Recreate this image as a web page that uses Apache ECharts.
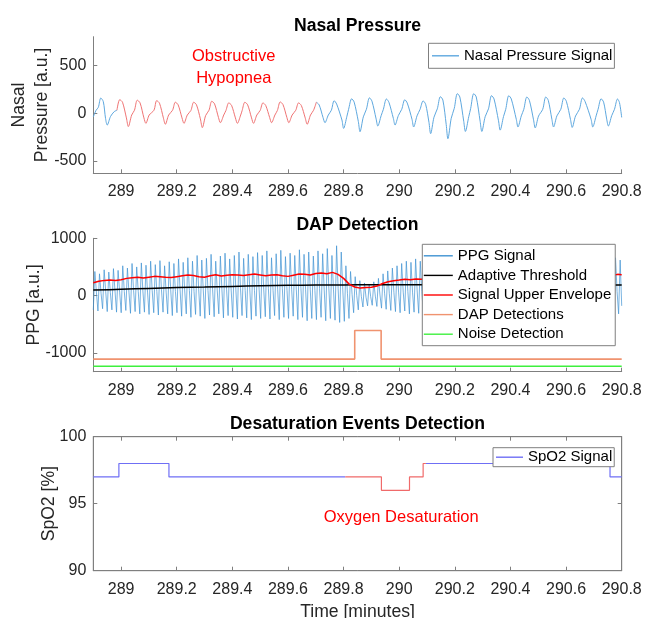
<!DOCTYPE html>
<html><head><meta charset="utf-8">
<script src="https://cdn.jsdelivr.net/npm/echarts@6/dist/echarts.min.js"></script>
<style>html,body{margin:0;padding:0;background:#fff}#chart{width:645px;height:618px}</style>
</head><body><div id="chart"></div>
<script>
// ---------- shared axis ----------
const xTickValues = [289, 289.2, 289.4, 289.6, 289.8, 290, 290.2, 290.4, 290.6, 290.8];
const timeMin = 288.9, timeMax = 290.8;

// ---------- Nasal pressure ----------
const nasalTime = [
288.900,288.910,288.918,288.927,288.936,288.944,288.950,288.962,288.975,288.985,
288.995,289.005,289.019,289.026,289.038,289.048,
289.058,289.068,289.082,289.089,289.101,289.118,
289.128,289.138,289.152,289.159,289.171,289.185,
289.195,289.205,289.219,289.226,289.238,289.251,
289.261,289.271,289.285,289.292,289.304,289.316,
289.326,289.336,289.350,289.357,289.369,289.377,
289.387,289.397,289.411,289.418,289.430,289.435,
289.445,289.455,289.469,289.476,289.488,289.500,
289.510,289.520,289.534,289.541,289.553,289.562,
289.572,289.582,289.596,289.603,289.615,289.628,
289.638,289.648,289.662,289.669,289.681,289.692,
289.702,289.712,289.726,289.733,289.745,289.756,
289.766,289.775,289.794,289.800,289.812,289.818,
289.829,289.838,289.853,289.859,289.871,289.882,
289.893,289.902,289.917,289.923,289.935,289.943,
289.954,289.963,289.979,289.985,289.997,290.009,
290.020,290.029,290.046,290.052,290.064,290.075,
290.086,290.095,290.107,290.113,290.125,290.137,
290.148,290.157,290.169,290.175,290.187,290.198,
290.209,290.218,290.232,290.238,290.250,290.257,
290.268,290.277,290.291,290.297,290.309,290.321,
290.332,290.341,290.357,290.363,290.375,290.383,
290.394,290.403,290.421,290.427,290.439,290.448,
290.459,290.468,290.483,290.489,290.501,290.516,
290.527,290.536,290.549,290.555,290.567,290.581,
290.592,290.601,290.616,290.622,290.634,290.648,
290.659,290.668,290.690,290.696,290.708,290.715,
290.726,290.735,290.746,290.752,290.764,290.774,
290.785,290.792,290.800];
const nasalValue = [
-40,30,60,158,120,-55,-125,-35,15,30,
141,114,-50,-141,-20,30,
135,108,-50,-107,-20,30,
131,104,-50,-117,-20,30,
114,87,-50,-107,-20,28,
114,87,-60,-152,-25,30,
124,97,-45,-100,-20,28,
107,82,-50,-107,-20,25,
114,87,-50,-107,-20,28,
107,80,-45,-100,-20,28,
117,90,-45,-100,-20,30,
107,80,-50,-117,-20,30,
114,87,-45,-100,-20,30,
130,95,-72,-160,-32,40,
150,115,-88,-195,-39,40,
160,125,-61,-135,-27,40,
148,113,-56,-125,-25,40,
140,105,-65,-145,-29,40,
128,93,-97,-215,-43,45,
172,137,-120,-268,-54,50,
204,169,-86,-192,-38,50,
204,169,-86,-192,-38,45,
183,148,-80,-178,-36,40,
183,148,-65,-145,-29,40,
169,134,-70,-155,-31,40,
169,134,-65,-145,-29,40,
159,124,-68,-150,-30,40,
159,124,-65,-145,-29,40,
150,115,-61,-135,-27,40,
148,110,-45];
const hypopneaStart = 288.985, hypopneaEnd = 289.702;

// ---------- PPG (beats: trough, peak, dicrotic) ----------
const ppgStartMin = 288.9, ppgSampleStepMin = 0.005572;
const ppgValue = [
-250,420,60, -270,380,40, -230,450,70, -280,410,50, -250,470,80, -290,440,60,
-300,520,70, -260,480,60, -310,560,90, -280,500,70, -320,570,80, -290,530,60,
-330,600,90, -300,540,70, -340,610,100, -290,520,60, -320,590,80, -350,560,70,
-300,640,100, -360,580,80, -320,660,90, -380,600,70, -330,700,110, -360,620,80,
-400,650,90, -340,720,100, -370,600,80, -320,690,100, -390,740,110, -350,640,80,
-380,700,100, -410,760,120, -350,650,90, -390,720,100, -420,680,90, -360,750,110,
-400,700,100, -370,780,120, -410,660,90, -350,730,100, -420,790,120, -380,680,90,
-400,740,110, -360,700,100, -420,800,120, -380,720,100, -440,760,110, -400,690,90,
-420,780,120, -380,730,100, -440,820,130, -400,700,100, -430,870,120, -470,760,100,
-450,520,40, -400,420,20, -300,330,0, -250,260,-20, -200,220,-30, -180,200,-20,
-170,240,-10, -190,300,10, -220,380,30, -240,430,40, -260,480,50, -280,520,60,
-300,560,60, -270,600,70, -320,580,60, -290,640,80, -310,600,70,
-330,620,70, -300,660,80, -350,600,60, -310,680,90, -340,640,70, -360,700,90,
-320,620,70, -350,680,80, -300,640,70, -370,710,90, -330,650,70, -350,690,80,
-320,630,70, -360,700,90, -340,660,80, -310,620,60, -350,680,80, -330,640,70,
-370,720,90, -340,660,70, -320,690,80, -360,640,70, -330,700,90, -350,650,70,
-310,680,80, -360,630,70, -340,700,90, -320,660,70, -370,690,80, -330,640,70,
-350,710,90, -320,650,70, -360,680,80, -340,630,70, -370,700,90, -330,660,70,
-350,690,80, -310,640,70, -360,700,90, -340,650,70, -380,680,80,
-380,660,70, -320,620,-180];

const envTime = [288.90,288.92,288.94,288.96,288.98,289.00,289.02,289.04,289.06,289.08,289.10,289.12,289.14,289.16,289.18,289.20,289.22,289.24,289.26,289.28,289.30,289.32,289.34,289.36,289.38,289.40,289.42,289.44,289.46,289.48,289.50,289.52,289.54,289.56,289.58,289.60,289.62,289.64,289.66,289.68,289.70,289.72,289.74,289.76,289.78,289.80,289.82,289.84,289.86,289.88,289.90,289.92,289.94,289.96,289.98,290.00,290.02,290.04,290.06,290.08,290.10,290.15,290.20,290.25,290.30,290.35,290.40,290.45,290.50,290.55,290.60,290.65,290.70,290.75,290.77,290.785,290.80];
const envValue = [225,250,265,270,265,275,300,310,320,305,320,335,330,320,315,330,345,360,350,330,320,345,365,340,355,365,360,350,365,375,360,345,360,365,345,335,355,375,370,360,385,395,380,405,370,300,200,150,130,140,145,165,210,240,260,270,285,275,290,285,300,320,340,320,330,340,330,320,340,350,330,340,350,330,355,370,365];

const thrTime = [288.90,289.00,289.10,289.20,289.30,289.40,289.50,289.60,289.70,289.80,289.90,290.00,290.20,290.40,290.60,290.80];
const thrValue = [95,110,125,140,150,160,170,178,183,186,188,188,187,186,186,185];

const dapTime = [288.9,289.84,289.84,289.935,289.935,290.8];
const dapValue = [-1110,-1110,-610,-610,-1110,-1110];

const noiseTime = [288.9,290.8];
const noiseValue = [-1235,-1235];

// ---------- SpO2 (value holds until next time) ----------
const spo2Time = [288.9,288.992,289.172,289.936,290.037,290.086,290.758,290.8];
const spo2Value = [97,98,97,96,97,98,97,97];
const desatStart = 289.806, desatEnd = 290.096;

// ---------- build ----------
const zip = (t, v) => t.map((x, i) => [x, v[i]]);
const nasalData = zip(nasalTime, nasalValue);
const hypData = nasalData.filter(p => p[0] >= hypopneaStart && p[0] <= hypopneaEnd);
const nasalBlue = nasalData.map(p => (p[0] > hypopneaStart && p[0] < hypopneaEnd) ? [p[0], null] : p);
const ppgData = ppgValue.map((v, i) => [ppgStartMin + i * ppgSampleStepMin, v]);
const spo2Data = zip(spo2Time, spo2Value);
function spo2At(t){ let v = spo2Value[0]; for (let i=0;i<spo2Time.length;i++){ if (spo2Time[i] <= t) v = spo2Value[i]; } return v; }
const desatData = [[desatStart, spo2At(desatStart)]]
  .concat(spo2Data.filter(p => p[0] > desatStart && p[0] < desatEnd))
  .concat([[desatEnd, spo2At(desatEnd)]]);
const spo2Before = spo2Data.filter(p => p[0] < desatStart).concat([[desatStart, spo2At(desatStart)]]);
const spo2After = [[desatEnd, spo2At(desatEnd)]].concat(spo2Data.filter(p => p[0] > desatEnd));

const FONT = 'Liberation Sans, Arial, Helvetica, sans-serif';
const AX = '#7f7f7f', TXT = '#262626';
const fmt = v => String(Math.round(v * 10) / 10);

const grids = [
  {left: 93.3, right: 23.3, top: 36.7, height: 136.6, outerBoundsMode: 'none', containLabel: false},
  {left: 93.3, right: 23.3, top: 238.3, height: 133.4, outerBoundsMode: 'none', containLabel: false},
  {left: 93.3, right: 23.3, top: 436.7, height: 134, show: true, borderColor: AX, borderWidth: 1, outerBoundsMode: 'none', containLabel: false}
];
function xAx(i, extra){
  return Object.assign({
    gridIndex: i, type: 'value', min: timeMin, max: timeMax,
    axisLine: {show: true, onZero: false, lineStyle: {color: AX, width: 1}},
    axisTick: {show: true, inside: true, length: 4, customValues: xTickValues, lineStyle: {color: AX}},
    axisLabel: {customValues: xTickValues, formatter: fmt, fontSize: 16, color: TXT, fontFamily: FONT, margin: 10.5},
    splitLine: {show: false}
  }, extra || {});
}
function yAx(i, min, max, ticks, name, gap, extra){
  return Object.assign({
    gridIndex: i, type: 'value', min: min, max: max,
    axisLine: {show: true, onZero: false, lineStyle: {color: AX, width: 1}},
    axisTick: {show: true, inside: true, length: 4, customValues: ticks, lineStyle: {color: AX}},
    axisLabel: {customValues: ticks, formatter: v => String(v), fontSize: 16, color: TXT, fontFamily: FONT, margin: 7},
    splitLine: {show: false},
    name: name, nameLocation: 'middle', nameRotate: 90, nameGap: gap, nameMoveOverlap: false,
    nameTextStyle: {fontSize: 17.6, color: TXT, fontFamily: FONT, lineHeight: 23}
  }, extra || {});
}
const legendBase = {
  orient: 'vertical', backgroundColor: '#fff', borderColor: AX, borderWidth: 1, borderRadius: 0,
  icon: 'rect', itemWidth: 27, itemHeight: 1.4, selectedMode: false,
  textStyle: {fontSize: 15, color: '#000', fontFamily: FONT, lineHeight: 16}
};
const titleBase = {textAlign: 'center', left: 357.5, padding: 0,
  textStyle: {fontSize: 17.6, fontWeight: 'bold', color: '#000', fontFamily: FONT, lineHeight: 20}};

const chart = echarts.init(document.getElementById('chart'), null, {renderer: 'canvas'});
chart.setOption({
  animation: false,
  backgroundColor: '#fff',
  title: [
    Object.assign({text: 'Nasal Pressure', top: 16}, titleBase),
    Object.assign({text: 'DAP Detection', top: 215}, titleBase),
    Object.assign({text: 'Desaturation Events Detection', top: 414}, titleBase)
  ],
  grid: grids,
  xAxis: [
    xAx(0), xAx(1),
    xAx(2, {name: 'Time [minutes]', nameLocation: 'middle', nameGap: 32,
      nameTextStyle: {fontSize: 17.6, color: TXT, fontFamily: FONT}}),
    xAx(2, {position: 'top', axisLabel: {show: false, customValues: xTickValues}})
  ],
  yAxis: [
    yAx(0, -630, 800, [-500, 0, 500], 'Nasal\nPressure [a.u.]', 40),
    yAx(1, -1330, 1000, [-1000, 0, 1000], 'PPG [a.u.]', 48),
    yAx(2, 90, 100, [90, 95, 100], 'SpO2 [%]', 33),
    yAx(2, 90, 100, [90, 95, 100], '', 0, {position: 'right', axisLabel: {show: false, customValues: [90,95,100]}})
  ],
  legend: [
    Object.assign({}, legendBase, {data: ['Nasal Pressure Signal'], left: 428.5, top: 43.3, padding: [4.5, 2, 4.5, 3.5]}),
    Object.assign({}, legendBase, {data: ['PPG Signal', 'Adaptive Threshold', 'Signal Upper Envelope', 'DAP Detections', 'Noise Detection'],
      itemWidth: 29, left: 422.3, top: 244.3, itemGap: 3.6, padding: [3.5, 4, 3.5, 1.5]}),
    Object.assign({}, legendBase, {data: ['SpO2 Signal'], left: 493, top: 447.7, padding: [1.5, 2, 1.5, 3]})
  ],
  series: [
    {name: 'Nasal Pressure Signal', type: 'line', xAxisIndex: 0, yAxisIndex: 0, data: nasalBlue, symbol: 'none', smooth: 0.3,
      lineStyle: {color: '#5ea8df', width: 1}, itemStyle: {color: '#5ea8df'}},
    {name: 'Hypopnea', type: 'line', xAxisIndex: 0, yAxisIndex: 0, data: hypData, symbol: 'none', smooth: 0.3,
      lineStyle: {color: '#f07474', width: 1}, itemStyle: {color: '#f07474'}},
    {name: 'PPG Signal', type: 'line', xAxisIndex: 1, yAxisIndex: 1, data: ppgData, symbol: 'none',
      lineStyle: {color: '#3f92d2', width: 0.7}, itemStyle: {color: '#3f92d2'}},
    {name: 'Adaptive Threshold', type: 'line', xAxisIndex: 1, yAxisIndex: 1, data: zip(thrTime, thrValue), symbol: 'none', smooth: 0.3,
      lineStyle: {color: '#000', width: 1.5}, itemStyle: {color: '#000'}},
    {name: 'Signal Upper Envelope', type: 'line', xAxisIndex: 1, yAxisIndex: 1, data: zip(envTime, envValue), symbol: 'none',
      lineStyle: {color: '#ff0000', width: 1.5}, itemStyle: {color: '#ff0000'}},
    {name: 'DAP Detections', type: 'line', xAxisIndex: 1, yAxisIndex: 1, data: zip(dapTime, dapValue), symbol: 'none',
      lineStyle: {color: '#f0936f', width: 1.6}, itemStyle: {color: '#f0936f'}},
    {name: 'Noise Detection', type: 'line', xAxisIndex: 1, yAxisIndex: 1, data: zip(noiseTime, noiseValue), symbol: 'none',
      lineStyle: {color: '#3ef03e', width: 1.5}, itemStyle: {color: '#3ef03e'}},
    {name: 'SpO2 Signal', type: 'line', xAxisIndex: 2, yAxisIndex: 2, data: spo2Before, symbol: 'none', step: 'end',
      lineStyle: {color: '#6f6ff5', width: 1.2}, itemStyle: {color: '#6f6ff5'}},
    {name: 'SpO2 Signal', type: 'line', xAxisIndex: 2, yAxisIndex: 2, data: spo2After, symbol: 'none', step: 'end',
      lineStyle: {color: '#6f6ff5', width: 1.2}, itemStyle: {color: '#6f6ff5'}},
    {name: 'Desaturation', type: 'line', xAxisIndex: 2, yAxisIndex: 2, data: desatData, symbol: 'none', step: 'end',
      lineStyle: {color: '#f06a6a', width: 1.2}, itemStyle: {color: '#f06a6a'}}
  ]
});

// annotations anchored in data coordinates
const hypLabelAt = [289.405, 480];
const desatLabelAt = [290.007, 94];
const p1 = chart.convertToPixel({xAxisIndex: 0, yAxisIndex: 0}, hypLabelAt);
const p2 = chart.convertToPixel({xAxisIndex: 2, yAxisIndex: 2}, desatLabelAt);
chart.setOption({graphic: [
  {type: 'text', x: p1[0], y: p1[1], z: 10, style: {text: 'Obstructive\nHypopnea', fill: '#ff0000', font: '16.5px ' + FONT,
    align: 'center', verticalAlign: 'middle', textAlign: 'center', textVerticalAlign: 'middle', lineHeight: 22}},
  {type: 'text', x: p2[0], y: p2[1], z: 10, style: {text: 'Oxygen Desaturation', fill: '#ff0000', font: '16.5px ' + FONT,
    align: 'center', verticalAlign: 'middle', textAlign: 'center', textVerticalAlign: 'middle'}}
]});
</script></body></html>
